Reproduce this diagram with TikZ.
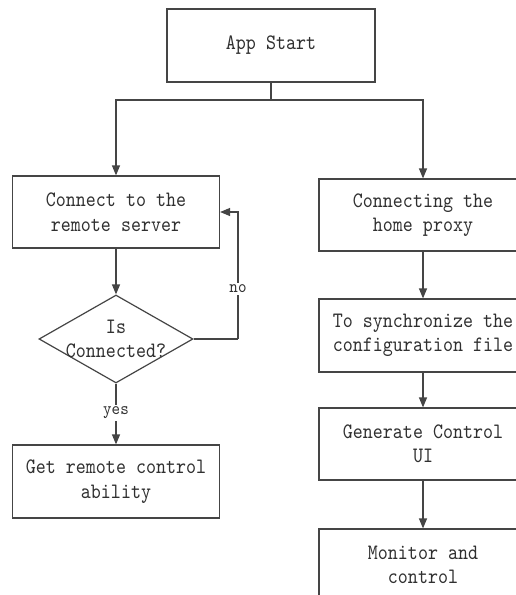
\documentclass[tikz,border=0pt]{standalone}
\usepackage{fontspec}
\newfontfamily\narrowmono[FakeStretch=0.866]{lmmono10-regular.otf}
\newfontfamily\labelmono[FakeStretch=0.9]{lmmono10-regular.otf}
\usetikzlibrary{shapes.geometric,arrows.meta}
\definecolor{linec}{HTML}{454545}
\definecolor{textc}{HTML}{303030}
\begin{document}
\begin{tikzpicture}[x=1pt,y=-1pt,
  box/.style={draw=linec,line width=1.2pt,rectangle,minimum width=207pt,minimum height=72pt,
    align=center,text=textc,font=\narrowmono\fontsize{22}{24.5}\selectfont,inner sep=0pt},
  dia/.style={draw=linec,line width=1.2pt,diamond,minimum width=154pt,minimum height=88pt,inner sep=0pt},
  conn/.style={draw=linec,line width=1.2pt,-{Triangle[length=10pt,width=8pt]}},
  plain/.style={draw=linec,line width=1.2pt},
  lbl/.style={fill=white,text=textc,font=\labelmono\fontsize{18}{20}\selectfont,inner sep=1.5pt}]
\useasboundingbox (0,0) rectangle (516,595);
\clip (0,0) rectangle (516,595);
\fill[white] (0,0) rectangle (516,595);
\node[box,minimum width=208pt,minimum height=73pt] (start) at (271,45.5) {App Start};
\node[box] (conn) at (116,212) {Connect to the\\remote server};
\node[box,minimum width=208pt] (proxy) at (423,215) {Connecting the\\home proxy};
\node[dia] (dec) at (116,339) {};
\node[text=textc,font=\narrowmono\fontsize{22}{24.5}\selectfont,align=center,inner sep=0pt] (dectext) at (dec.center) {Is\\Connected?};
\node[box,minimum height=73pt] (get) at (116,481.5) {Get remote control\\ability};
\node[box,minimum width=208pt,minimum height=73pt] (sync) at (423,335.5) {To synchronize the\\configuration file};
\node[box,minimum width=208pt] (gen) at (423,444) {Generate Control\\UI};
\node[box,minimum width=208pt] (mon) at (423,565) {Monitor and\\control};
\coordinate (split) at (271,100);
\coordinate (loop) at (238,339);
\draw[plain] (start.south) -- (split);
\draw[conn] (split) -| (conn.north);
\draw[conn] (split) -| (proxy.north);
\draw[conn] (conn.south) -- (dec.north);
\draw[plain] (dec.east) -- (loop);
\draw[conn] (loop) |- (conn.east);
\node[lbl] (nolbl) at (238,289) {no};
\draw[conn] (dec.south) -- (get.north);
\node[lbl] (yeslbl) at (116,413) {yes};
\draw[conn] (proxy.south) -- (sync.north);
\draw[conn] (sync.south) -- (gen.north);
\draw[conn] (gen.south) -- (mon.north);
\end{tikzpicture}
\end{document}
